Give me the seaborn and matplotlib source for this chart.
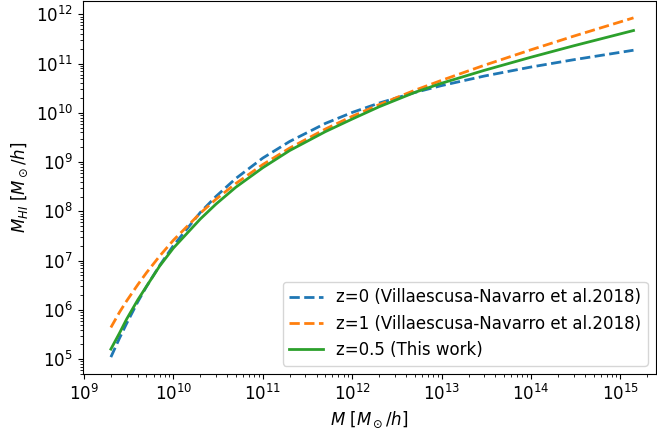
import numpy as np
import pandas as pd
import matplotlib
matplotlib.use("Agg")
import matplotlib.pyplot as plt
import seaborn as sns

plt.rcParams["font.size"] = 12

# halo mass grid [M_sun/h]
halo_mass = [2e9, 2.5e9, 3e9, 4e9, 5e9, 7e9, 1e10, 2e10, 3e10, 5e10, 1e11, 2e11, 5e11,
             1e12, 2e12, 5e12, 1e13, 3e13, 1e14, 3e14, 1.4e15]

# HI mass [M_sun/h]
mhi_z0 = [1.1e5, 2.68e5, 5.3e5, 1.46e6, 2.97e6, 7.9e6, 2.02e7, 9.5e7, 2.02e8, 4.67e8,
          1.21e9, 2.63e9, 6.1e9, 1.02e10, 1.58e10, 2.59e10, 3.58e10, 5.59e10,
          8.53e10, 1.2e11, 1.87e11]
mhi_z1 = [4.4e5, 9.0e5, 1.52e6, 3.25e6, 5.68e6, 1.23e7, 2.6e7, 9.2e7, 1.77e8, 3.69e8,
          8.93e8, 1.93e9, 4.69e9, 8.52e9, 1.47e10, 2.87e10, 4.58e10, 9.25e10,
          1.91e11, 3.61e11, 8.5e11]
mhi_z05 = [1.6e5, 3.4e5, 6.5e5, 1.6e6, 3.0e6, 7.7e6, 1.8e7, 7.0e7, 1.41e8, 3.1e8,
           7.7e8, 1.72e9, 4.15e9, 7.5e9, 1.33e10, 2.6e10, 4.0e10, 7.3e10,
           1.35e11, 2.3e11, 4.7e11]

labels = ["z=0 (Villaescusa-Navarro et al.2018)",
          "z=1 (Villaescusa-Navarro et al.2018)",
          "z=0.5 (This work)"]

fig, ax = plt.subplots(figsize=(6.57, 4.36), dpi=100)
fig.subplots_adjust(left=0.126, right=0.9985, top=0.998, bottom=0.142)

sns.lineplot(x=halo_mass, y=mhi_z0, ax=ax, color="tab:blue", linestyle="--", lw=2, label=labels[0])
sns.lineplot(x=halo_mass, y=mhi_z1, ax=ax, color="tab:orange", linestyle="--", lw=2, label=labels[1])
sns.lineplot(x=halo_mass, y=mhi_z05, ax=ax, color="tab:green", linestyle="-", lw=2, label=labels[2])

ax.set_xscale("log")
ax.set_yscale("log")
ax.set_xlim(0.97e9, 2.5e15)
ax.set_xlabel(r"$M\ [M_\odot/h]$")
ax.set_ylabel(r"$M_{HI}\ [M_\odot/h]$")
ax.legend(loc="lower right")

plt.savefig("out.png", dpi=100)
